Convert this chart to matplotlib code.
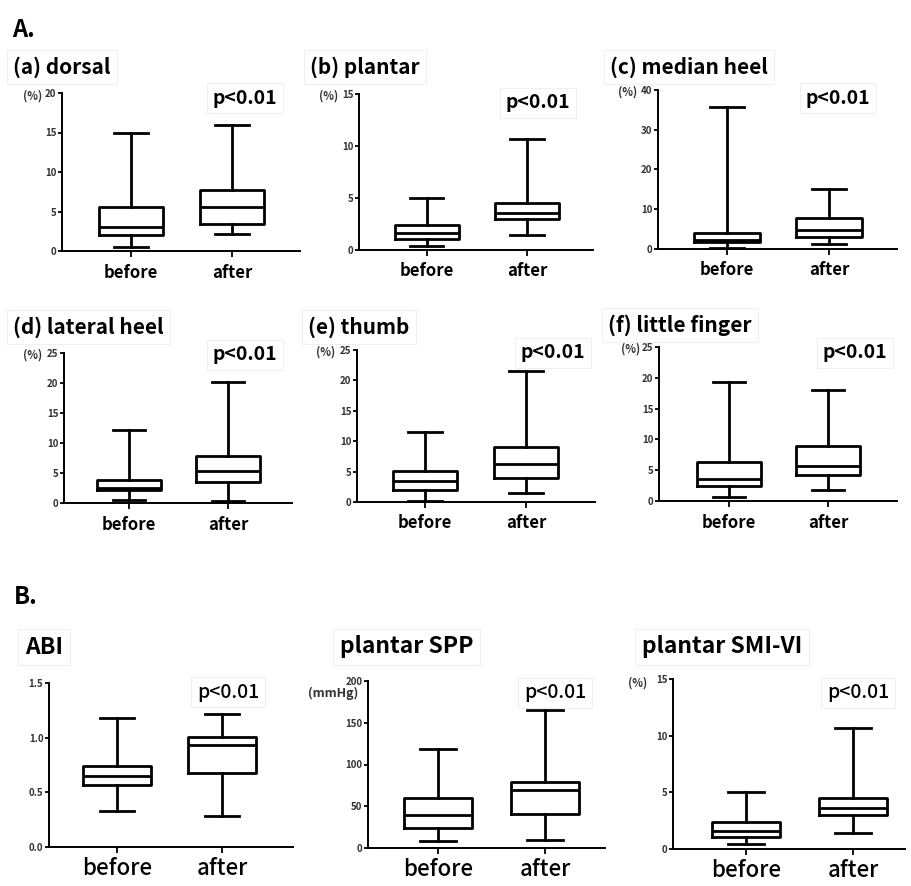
import matplotlib.pyplot as plt

plt.rcParams['font.family'] = ['Noto Sans CJK JP', 'DejaVu Sans']

W, H = 912, 886
groups = ['before', 'after']

# box values: whisker low, Q1, median, Q3, whisker high
dorsal_before = [0.5, 2.0, 3.1, 5.6, 15.0]
dorsal_after = [2.1, 3.4, 5.6, 7.7, 16.0]
plantar_before = [0.4, 1.1, 1.6, 2.4, 5.0]
plantar_after = [1.4, 3.0, 3.6, 4.5, 10.7]
median_before = [0.3, 1.7, 2.2, 4.0, 35.8]
median_after = [1.2, 3.1, 4.8, 7.7, 15.2]
lateral_before = [0.5, 2.2, 2.5, 3.9, 12.1]
lateral_after = [0.3, 3.5, 5.3, 7.9, 20.1]
thumb_before = [0.2, 2.0, 3.5, 5.1, 11.5]
thumb_after = [1.4, 3.9, 6.3, 9.1, 21.6]
little_before = [0.6, 2.5, 3.5, 6.4, 19.3]
little_after = [1.8, 4.2, 5.7, 9.0, 18.0]
abi_before = [0.33, 0.57, 0.65, 0.74, 1.18]
abi_after = [0.28, 0.68, 0.93, 1.01, 1.22]
spp_before = [8, 24, 39, 60, 118]
spp_after = [10, 41, 70, 79, 165]
smi_before = [0.4, 1.1, 1.6, 2.4, 5.0]
smi_after = [1.4, 3.0, 3.6, 4.5, 10.7]

titles = ['(a) dorsal', '(b) plantar', '(c) median heel',
          '(d) lateral heel', '(e) thumb', '(f) little finger',
          'ABI', 'plantar SPP', 'plantar SMI-VI']
ymax = [20, 15, 40, 25, 25, 25, 1.5, 200, 15]
ystep = [5, 5, 10, 5, 5, 5, 0.5, 50, 5]
units = ['(%)'] * 6 + ['', '(mmHg)', '(%)']
data = [(dorsal_before, dorsal_after), (plantar_before, plantar_after),
        (median_before, median_after), (lateral_before, lateral_after),
        (thumb_before, thumb_after), (little_before, little_after),
        (abi_before, abi_after), (spp_before, spp_after), (smi_before, smi_after)]

# layout in pixels: axis left, axis right, top, bottom(y=0), tick before, tick after
lay = [(62, 300, 93, 251, 131, 232), (359, 593, 94, 250, 427, 527),
       (658, 897, 90, 249, 727, 829), (64, 292, 353, 503, 129, 228),
       (357, 595, 350, 502, 425, 526), (659, 897, 347, 501, 729, 828),
       (49, 293, 683, 847, 117, 222), (368, 605, 681, 848, 438, 545),
       (673, 905, 679, 849, 746, 853)]
title_pos = [(13, 67), (310, 67), (610, 67), (13, 327), (308, 327), (608, 325),
             (25, 647), (340, 647), (642, 647)]
p_pos = [(245, 98), (538, 103), (838, 98), (245, 355), (553, 353), (855, 353),
         (228, 692), (555, 693), (858, 693)]
unit_pos = [(42, 96), (338, 96), (637, 92), (42, 355), (335, 352), (640, 349),
            (0, 0), (358, 693), (647, 683)]

fig = plt.figure(figsize=(W / 100, H / 100), dpi=100)
box = dict(boxstyle='square,pad=0.3', fc='white', ec='#f0f0f0', lw=0.8)


def fx(x):
    return x / W


def fy(y):
    return 1 - y / H


for i in range(9):
    l, r, t, b, t0, t1 = lay[i]
    ax = fig.add_axes([fx(l), fy(b), (r - l) / W, (b - t) / H])
    sp = t1 - t0
    ax.set_xlim((l - t0) / sp, 1 + (r - t1) / sp)
    ax.set_ylim(0, ymax[i])
    stats = []
    for g, v in zip(groups, data[i]):
        stats.append(dict(whislo=v[0], q1=v[1], med=v[2], q3=v[3], whishi=v[4], label=g))
    lp = dict(color='black', lw=2.0)
    arts = ax.bxp(stats, positions=[0, 1], widths=0.64, capwidths=0.33, showfliers=False,
                  boxprops=lp, whiskerprops=lp, capprops=lp, medianprops=lp)
    for k in arts:
        for a in arts[k]:
            a.set_clip_on(False)
    for s in ['top', 'right']:
        ax.spines[s].set_visible(False)
    for s in ['left', 'bottom']:
        ax.spines[s].set_linewidth(1.4)
    n = int(round(ymax[i] / ystep[i]))
    yt = [ystep[i] * k for k in range(n + 1)]
    ax.set_yticks(yt)
    if i == 6:
        ax.set_yticklabels(['%.1f' % v for v in yt])
    else:
        ax.set_yticklabels(['%d' % v for v in yt])
    ax.tick_params(axis='y', length=3, width=1.3, pad=1, labelsize=7, labelcolor='#333333')
    for lab in ax.get_yticklabels():
        lab.set_fontweight('bold')
    ax.set_xticks([0, 1])
    if i < 6:
        ax.set_xticklabels(groups, fontsize=12, fontweight='bold')
        ax.tick_params(axis='x', length=4, width=1.3, pad=5)
    else:
        ax.set_xticklabels(groups, fontsize=16, fontweight='medium')
        ax.tick_params(axis='x', length=4, width=1.3, pad=3)

    tfs = 15 if i < 6 else 16.5
    fig.text(fx(title_pos[i][0]), fy(title_pos[i][1]), titles[i], fontsize=tfs,
             fontweight='bold', ha='left', va='center', bbox=box)
    fig.text(fx(p_pos[i][0]), fy(p_pos[i][1]), 'p<0.01', fontsize=14,
             fontweight='bold' if i < 6 else 'medium', ha='center', va='center', bbox=box)
    if units[i]:
        fig.text(fx(unit_pos[i][0]), fy(unit_pos[i][1]), units[i],
                 fontsize=9 if units[i] == '(mmHg)' else 8,
                 fontweight='bold', color='#333333', ha='right', va='center')

fig.text(fx(12), fy(30), 'A.', fontsize=17, fontweight='bold', ha='left', va='center')
fig.text(fx(14), fy(597), 'B.', fontsize=17, fontweight='bold', ha='left', va='center')

fig.savefig('out.png', dpi=100)
